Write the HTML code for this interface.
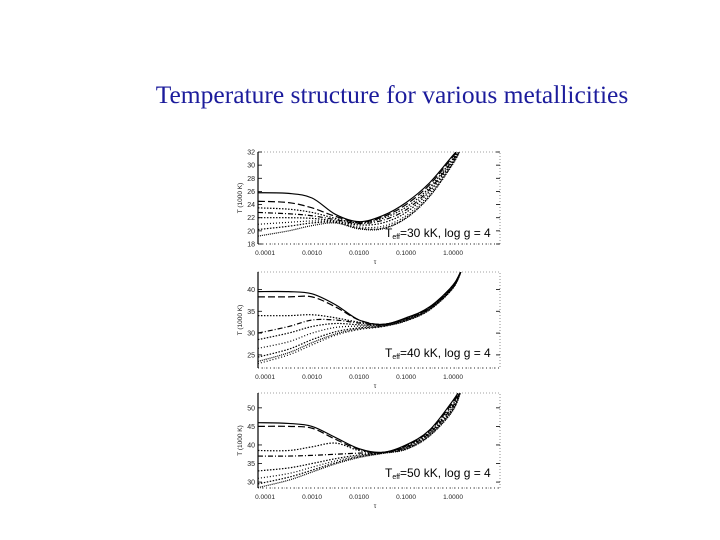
<!DOCTYPE html>
<html><head><meta charset="utf-8"><style>
body{margin:0;background:#fff;width:720px;height:540px;overflow:hidden}
#title{position:absolute;left:0;width:784px;top:80px;text-align:center;font-family:"Liberation Serif",serif;font-size:25.5px;color:#1c1c9c;white-space:nowrap}
svg{position:absolute;left:0;top:0}
text{font-family:"Liberation Sans",sans-serif}
</style></head><body>
<div id="title">Temperature structure for various metallicities</div>
<svg id="c" width="720" height="540"></svg>
<script>
const tauLog=[-4.15,-3.5,-3,-2.5,-2,-1.5,-1,-0.5,0,0.2];
const xTickLabels=["0.0001","0.0010","0.0100","0.1000","1.0000"];
const xTickVals=[-4,-3,-2,-1,0];
const p1Curves=[[25.8,25.7,25,22.5,21.4,22.3,24.3,27.3,31.5,33],[24.5,24.3,23.5,22.2,21.3,22.1,24,27,31.3,33],[23.5,23.3,22.8,21.9,21.2,21.9,23.6,26.6,31,33],[22.8,22.6,22.3,21.7,21.1,21.6,23.2,26.3,30.8,33],[22,22,21.9,21.5,20.9,21.2,22.8,26,30.6,33],[21,21.3,21.5,21.4,20.6,20.7,22.3,25.6,30.4,33],[20.2,20.7,21.2,21.3,20.4,20.4,22,25.3,30.3,33],[19.2,20,20.8,21.2,20.3,20.3,21.9,25.2,30.2,33]];
const p2Curves=[[39.5,39.5,39,36.5,33,32,33.5,36,41,45],[38.3,38.3,38.3,36,33,32,33.4,35.9,41,45],[34,34,34.2,33.5,32.5,32,33.3,35.8,40.8,45],[30,31.5,33,33,32.3,31.9,33.2,35.7,40.7,45],[28.5,30,31.5,32.2,31.9,31.8,33.1,35.6,40.6,45],[26.5,28,30,31.3,31.6,31.7,33,35.5,40.5,45],[24.5,26.3,28.5,30.3,31.2,31.6,32.9,35.4,40.4,45],[23.5,25.5,27.8,29.8,31,31.5,32.8,35.3,40.3,45],[23,25,27.3,29.5,30.8,31.5,32.8,35.3,40.3,45]];
const p3Curves=[[46,45.8,45,42,39,38,40,44,52,56],[45,45,44.5,41.5,38.8,38,39.8,43.8,51.5,56],[38.5,38.5,39.5,40.5,38.5,38,39.6,43.5,51,56],[37,37,37.2,37.5,37.8,38,39.4,43.2,50.5,56],[33,33.8,35,36.3,37.3,37.9,39.2,43,50,56],[31,32.3,34,35.7,37,37.8,39,42.7,49.8,56],[29.5,31.3,33.2,35.2,36.8,37.8,38.9,42.5,49.5,56],[28.5,30.5,32.7,34.9,36.6,37.7,38.8,42.4,49.3,56]];
const p1Ticks=[18,20,22,24,26,28,30,32];
const p2Ticks=[25,30,35,40];
const p3Ticks=[30,35,40,45,50];
const panels=[
 {top:152,bot:244,ymin:18,ymax:32,curves:p1Curves,ticks:p1Ticks,rest:"=30 kK, log g = 4",ly:237},
 {top:272,bot:368,ymin:22,ymax:44,curves:p2Curves,ticks:p2Ticks,rest:"=40 kK, log g = 4",ly:357},
 {top:393,bot:488,ymin:28.4,ymax:54,curves:p3Curves,ticks:p3Ticks,rest:"=50 kK, log g = 4",ly:477}];
const L=258,R=500,X0=-4.15,X1=1.0;
const svg=document.getElementById('c'),NS="http://www.w3.org/2000/svg";
function mk(t,a,p){const e=document.createElementNS(NS,t);for(const k in a)e.setAttribute(k,a[k]);(p||svg).appendChild(e);return e;}
const xs=v=>L+(v-X0)/(X1-X0)*(R-L);
const dashes=["","7 3","1.5 1.5","5 2 1 2","1.5 1.5","1 2","1.5 1.5","1 1","1 2"];
panels.forEach((p,pi)=>{
 const ys=v=>p.bot-(v-p.ymin)/(p.ymax-p.ymin)*(p.bot-p.top);
 const g=mk('g',{});
 
 
 const cid='clip'+pi;
 const cp=mk('clipPath',{id:cid},g);mk('rect',{x:L,y:p.top,width:R-L,height:p.bot-p.top},cp);
 const frame=mk('rect',{x:L,y:p.top,width:R-L,height:p.bot-p.top,fill:'none',stroke:'#444','stroke-width':0.6,'stroke-dasharray':'1 2'},g);
 
 
 mk('line',{x1:L,y1:p.top,x2:L,y2:p.bot,stroke:'#000','stroke-width':1.2},g);
 mk('line',{x1:L,y1:p.bot,x2:R,y2:p.bot,stroke:'#000','stroke-width':0.8,'stroke-dasharray':'1 3'},g);
 p.ticks.forEach(t=>{const y=ys(t);
  const tx=mk('text',{x:L-3,y:y+2.5,'font-size':7,'text-anchor':'end',fill:'#222'},g);tx.textContent=t;
  
  
  mk('line',{x1:L,y1:y,x2:L+4,y2:y,stroke:'#000','stroke-width':0.8},g);
  mk('line',{x1:R-4,y1:y,x2:R,y2:y,stroke:'#000','stroke-width':0.8},g);});
 xTickVals.forEach((v,i)=>{const x=xs(v);
  const tx=mk('text',{x:x,y:p.bot+11,'font-size':6.5,'text-anchor':'middle',fill:'#222'},g);tx.textContent=xTickLabels[i];
  
  });
 const yt=mk('text',{x:0,y:0,'font-size':6.5,'text-anchor':'middle',fill:'#222',transform:`translate(${L-16},${(p.top+p.bot)/2}) rotate(-90)`},g);
 yt.textContent="T (1000 K)";
 
 
 const xt=mk('text',{x:375,y:p.bot+20,'font-size':6.5,'text-anchor':'middle',fill:'#222'},g);
 xt.textContent="τ";
 
 
 const lab=mk('text',{x:385,y:p.ly,'font-size':12,fill:'#000'},g);
 lab.innerHTML=`T<tspan font-size="7" dy="2">eff</tspan><tspan dy="-2">${p.rest}</tspan>`;
 
 
 const cg=mk('g',{'clip-path':`url(#${cid})`},g);
 p.curves.forEach((c,ci)=>{
  const pts=c.map((v,i)=>[xs(tauLog[i]),ys(v)]);
  let d=`M${pts[0][0]},${pts[0][1]}`;
  for(let i=0;i<pts.length-1;i++){const p0=pts[Math.max(0,i-1)],p1=pts[i],p2=pts[i+1],p3=pts[Math.min(pts.length-1,i+2)];
   d+=` C${p1[0]+(p2[0]-p0[0])/6},${p1[1]+(p2[1]-p0[1])/6} ${p2[0]-(p3[0]-p1[0])/6},${p2[1]-(p3[1]-p1[1])/6} ${p2[0]},${p2[1]}`;}
  const path=mk('path',{d:d,fill:'none',stroke:'#000','stroke-width':1.2,'stroke-dasharray':dashes[ci%dashes.length]},cg);
  
  
 });
});
</script>
</body></html>
